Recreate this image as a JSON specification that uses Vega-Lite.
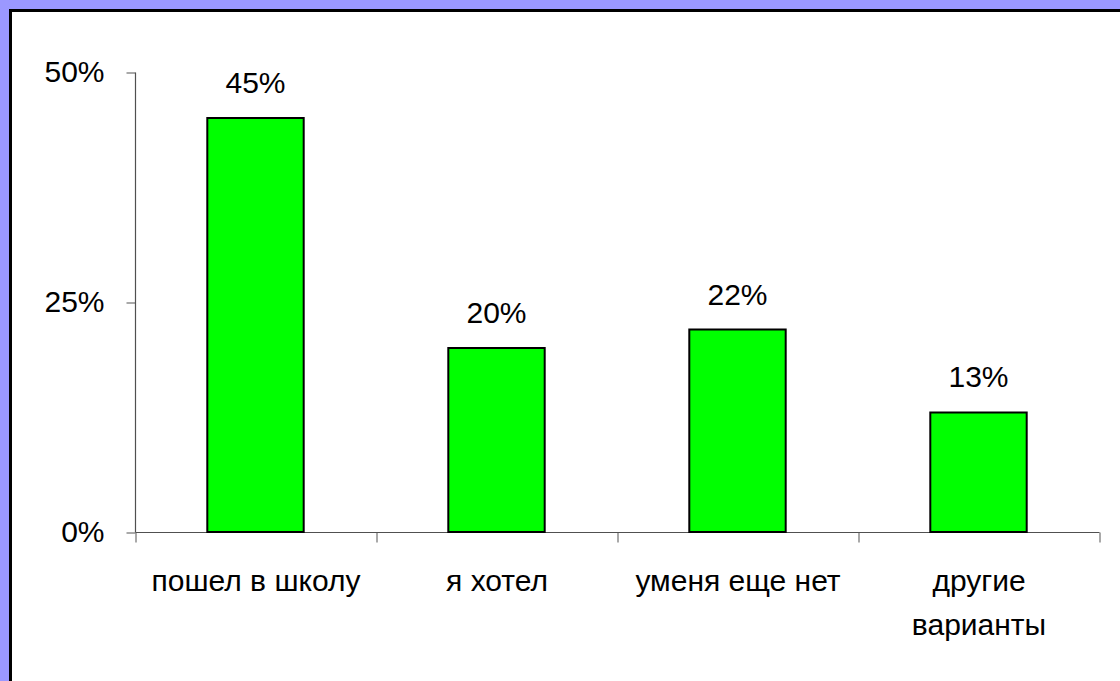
{
  "$schema": "https://vega.github.io/schema/vega-lite/v6.json",
  "autosize": {"type": "none"},
  "padding": {"left": 10.5, "top": 10.5, "right": 0, "bottom": 0},
  "width": 1120,
  "height": 680,
  "background": "#9b98ff",
  "view": {"fill": "white", "stroke": "black", "strokeWidth": 3},
  "config": {
    "font": "Liberation Sans",
    "axis": {"grid": false, "labelFont": "Liberation Sans", "labelFontSize": 30, "labelColor": "black", "domainColor": "#505050", "tickColor": "#707070", "domainWidth": 1.2, "tickWidth": 1.2, "title": null, "labelLimit": 0}
  },
  "data": {
    "values": [
      {"cat": "пошел в школу", "v": 0.45},
      {"cat": "я хотел", "v": 0.20},
      {"cat": "уменя еще нет", "v": 0.22},
      {"cat": "другие варианты", "v": 0.13}
    ]
  },
  "encoding": {
    "x": {
      "field": "cat", "type": "nominal", "sort": null,
      "scale": {"range": [124.5, 1088.5], "paddingInner": 0, "paddingOuter": 0},
      "axis": {
        "labelAngle": 0, "tickBand": "extent", "tickSize": 10, "labelPadding": 24,
        "offset": -158.5, "labelLineHeight": 44, "labelBaseline": "top",
        "labelExpr": "datum.value == 'другие варианты' ? ['другие', 'варианты'] : datum.value"
      }
    },
    "y": {
      "field": "v", "type": "quantitative",
      "scale": {"domain": [0, 0.5], "range": [521.5, 61.5], "nice": false, "zero": true},
      "axis": {"values": [0, 0.25, 0.5], "format": ".0%", "tickSize": 9, "labelPadding": 22, "offset": -124.5}
    }
  },
  "layer": [
    {
      "mark": {"type": "bar", "fill": "#00ff00", "stroke": "black", "strokeWidth": 2, "width": {"band": 0.4}}
    },
    {
      "mark": {"type": "text", "fontSize": 30, "font": "Liberation Sans", "color": "black", "baseline": "alphabetic", "dy": -25},
      "encoding": {"text": {"field": "v", "format": ".0%"}}
    }
  ]
}
